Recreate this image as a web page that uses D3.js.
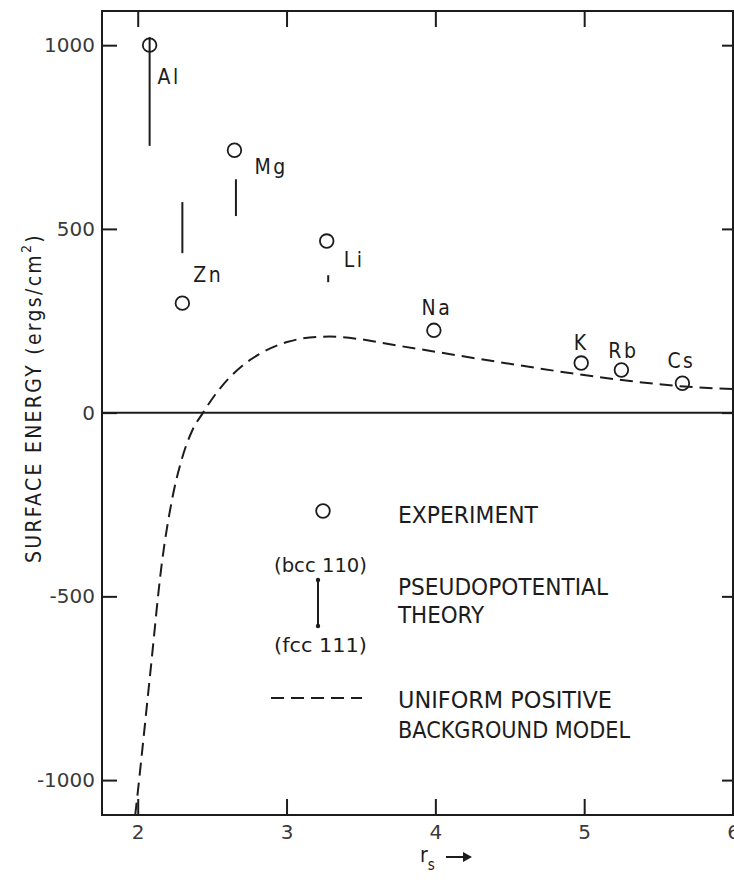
<!DOCTYPE html>
<html>
<head>
<meta charset="utf-8">
<script src="https://cdn.jsdelivr.net/npm/d3@7"></script>
<style>
  html, body { margin: 0; padding: 0; background: #fff; }
  svg { display: block; }
  .lbl { font-family: "DejaVu Sans Condensed", "DejaVu Sans", sans-serif; font-stretch: condensed; fill: #1c1c1c; }
  .tick text { font-family: "DejaVu Sans", sans-serif; fill: #3a3a3a; }
</style>
</head>
<body>
<svg id="chart" width="734" height="886"></svg>
<script>
// Surface energy of simple metals versus electron density parameter r_s

// Experimental surface energies (ergs/cm^2)
const metals    = ["Al", "Zn", "Mg", "Li", "Na", "K", "Rb", "Cs"];
const rsExp     = [2.08, 2.30, 2.65, 3.27, 3.99, 4.98, 5.25, 5.66];
const sigmaExp  = [1000, 298, 714, 467, 224, 135, 116, 80];

// Pseudopotential theory: range between (bcc 110) and (fcc 111) faces
const theoryMetals = ["Al", "Zn", "Mg", "Li"];
const theoryRs     = [2.08, 2.30, 2.66, 3.28];
const theoryHigh   = [1022, 573, 635, 374];
const theoryLow    = [726, 434, 535, 355];

// Uniform positive background (jellium) model
const jelliumRs    = [1.968, 2.002, 2.083, 2.163, 2.230, 2.298, 2.365, 2.439, 2.519, 2.607, 2.701, 2.808, 3.003, 3.205, 3.292, 3.494, 3.695, 4.011, 4.435, 4.952, 5.308, 5.644, 6.000];
const jelliumSigma = [-1150, -1027, -714, -407, -238, -124, -50, 0, 48, 91, 127, 157, 192, 206, 207, 200, 186, 165, 137, 105, 86, 72, 64];

// Axis ticks
const xTicks = [2, 3, 4, 5, 6];
const yTicks = [1000, 500, 0, -500, -1000];
const yTickLabels = ["1000", "500", "0", "-500", "-1000"];

const ink = "#1c1c1c";
const svg = d3.select("#chart");
const mLeft = 102, mRight = 733, mTop = 11, mBottom = 815;

const x = d3.scaleLinear().domain([1.76, 6.0]).range([mLeft, mRight]);
const y = d3.scaleLinear().domain([-1095, 1093]).range([mBottom, mTop]);

svg.append("defs").append("clipPath").attr("id", "plotClip")
  .append("rect").attr("x", mLeft).attr("y", mTop)
  .attr("width", mRight - mLeft).attr("height", mBottom - mTop);

// Axes with inward ticks
function styleAxis(g) {
  g.select(".domain").remove();
  g.selectAll(".tick line").attr("stroke", ink).attr("stroke-width", 2);
}
svg.append("g").attr("transform", `translate(0,${mBottom})`)
  .call(d3.axisBottom(x).tickValues(xTicks).tickSizeInner(-16).tickSizeOuter(0)
    .tickPadding(22).tickFormat(d3.format("d")))
  .call(styleAxis)
  .call(g => g.selectAll(".tick text").attr("font-size", 20).attr("dy", "0.1em"));

svg.append("g").attr("transform", `translate(0,${mTop})`)
  .call(d3.axisTop(x).tickValues([2, 3, 4, 5]).tickSizeInner(-16).tickSizeOuter(0).tickFormat(""))
  .call(styleAxis);

svg.append("g").attr("transform", `translate(${mLeft},0)`)
  .call(d3.axisLeft(y).tickValues(yTicks).tickSizeInner(-15).tickSizeOuter(0)
    .tickPadding(22).tickFormat((d, i) => yTickLabels[i]))
  .call(styleAxis)
  .call(g => g.selectAll(".tick text").attr("font-size", 20).attr("x", -7));

svg.append("g").attr("transform", `translate(${mRight},0)`)
  .call(d3.axisRight(y).tickValues(yTicks).tickSizeInner(-11).tickSizeOuter(0).tickFormat(""))
  .call(styleAxis);

// Frame
svg.append("rect").attr("x", mLeft).attr("y", mTop)
  .attr("width", mRight - mLeft).attr("height", mBottom - mTop)
  .attr("fill", "none").attr("stroke", ink).attr("stroke-width", 2);

// Zero line
svg.append("line").attr("x1", mLeft).attr("x2", mRight)
  .attr("y1", y(0)).attr("y2", y(0)).attr("stroke", ink).attr("stroke-width", 2);

const plot = svg.append("g").attr("clip-path", "url(#plotClip)");

// Jellium curve
const jellium = jelliumRs.map((r, i) => [r, jelliumSigma[i]]);
plot.append("path")
  .datum(jellium)
  .attr("d", d3.line().x(d => x(d[0])).y(d => y(d[1])).curve(d3.curveMonotoneX))
  .attr("fill", "none").attr("stroke", ink).attr("stroke-width", 2)
  .attr("stroke-dasharray", "13,7");

// Pseudopotential theory bars
plot.selectAll("line.theory").data(theoryMetals).join("line")
  .attr("class", "theory")
  .attr("x1", (d, i) => x(theoryRs[i])).attr("x2", (d, i) => x(theoryRs[i]))
  .attr("y1", (d, i) => y(theoryHigh[i])).attr("y2", (d, i) => y(theoryLow[i]))
  .attr("stroke", ink).attr("stroke-width", 2);

// Experimental points
plot.selectAll("circle.exp").data(metals).join("circle")
  .attr("class", "exp")
  .attr("cx", (d, i) => x(rsExp[i])).attr("cy", (d, i) => y(sigmaExp[i]))
  .attr("r", 6.8).attr("fill", "none").attr("stroke", ink).attr("stroke-width", 1.8);

// Element labels, offset from each experimental point
const labelOffset = {
  Al: [8, 39, "start"], Zn: [11, -21, "start"], Mg: [20, 24, "start"], Li: [17, 26, "start"],
  Na: [3, -15, "middle"], K: [0, -13, "middle"], Rb: [2, -12, "middle"], Cs: [-1, -15, "middle"]
};
svg.selectAll("text.metal").data(metals).join("text")
  .attr("class", "lbl metal")
  .attr("x", (d, i) => x(rsExp[i]) + labelOffset[d][0])
  .attr("y", (d, i) => y(sigmaExp[i]) + labelOffset[d][1])
  .attr("text-anchor", d => labelOffset[d][2])
  .attr("font-size", 21).attr("letter-spacing", 2.5)
  .text(d => d);

// Y axis title
const yTitle = svg.append("text").attr("class", "lbl")
  .attr("transform", "translate(41,398) rotate(-90)")
  .attr("text-anchor", "middle").attr("font-size", 21);
yTitle.append("tspan").text("SURFACE ENERGY (ergs/cm");
yTitle.append("tspan").attr("dy", -10).attr("font-size", 14).text("2");
yTitle.append("tspan").attr("dy", 10).text(")");
// stretch the title to its full span along the axis
const titleLen = yTitle.node().getComputedTextLength();
yTitle.attr("letter-spacing", Math.max(0, (330 - titleLen) / 25));

// X axis title: r_s with arrow
const xTitle = svg.append("text").attr("class", "lbl").attr("x", 420).attr("y", 862).attr("font-size", 21);
xTitle.append("tspan").text("r");
xTitle.append("tspan").attr("dy", 8).attr("font-size", 15).text("s");
svg.append("line").attr("x1", 446).attr("x2", 470).attr("y1", 857).attr("y2", 857)
  .attr("stroke", ink).attr("stroke-width", 2);
svg.append("path").attr("d", "M463,852 L472,857 L463,862 Z").attr("fill", ink);

// Legend
const lg = svg.append("g");
lg.append("circle").attr("cx", 323).attr("cy", 511).attr("r", 6.8)
  .attr("fill", "none").attr("stroke", ink).attr("stroke-width", 1.8);
lg.append("line").attr("x1", 318).attr("x2", 318).attr("y1", 580).attr("y2", 626)
  .attr("stroke", ink).attr("stroke-width", 2);
lg.selectAll("circle.end").data([580, 626]).join("circle").attr("class", "end")
  .attr("cx", 318).attr("cy", d => d).attr("r", 2.2).attr("fill", ink);
lg.append("line").attr("x1", 271).attr("x2", 362).attr("y1", 698).attr("y2", 698)
  .attr("stroke", ink).attr("stroke-width", 2).attr("stroke-dasharray", "13,7");

const legendText = [
  ["EXPERIMENT", 398, 523, 140, 23],
  ["(bcc 110)", 274, 572, 93, 20],
  ["(fcc 111)", 274, 652, 93, 20],
  ["PSEUDOPOTENTIAL", 398, 595, 210, 23],
  ["THEORY", 398, 623, 86, 23],
  ["UNIFORM POSITIVE", 398, 708, 214, 23],
  ["BACKGROUND MODEL", 398, 738, 232, 23]
];
lg.selectAll("text").data(legendText).join("text")
  .attr("class", "lbl")
  .attr("x", d => d[1]).attr("y", d => d[2])
  .attr("textLength", d => d[3]).attr("lengthAdjust", "spacingAndGlyphs")
  .attr("font-size", d => d[4])
  .text(d => d[0]);
</script>
</body>
</html>
